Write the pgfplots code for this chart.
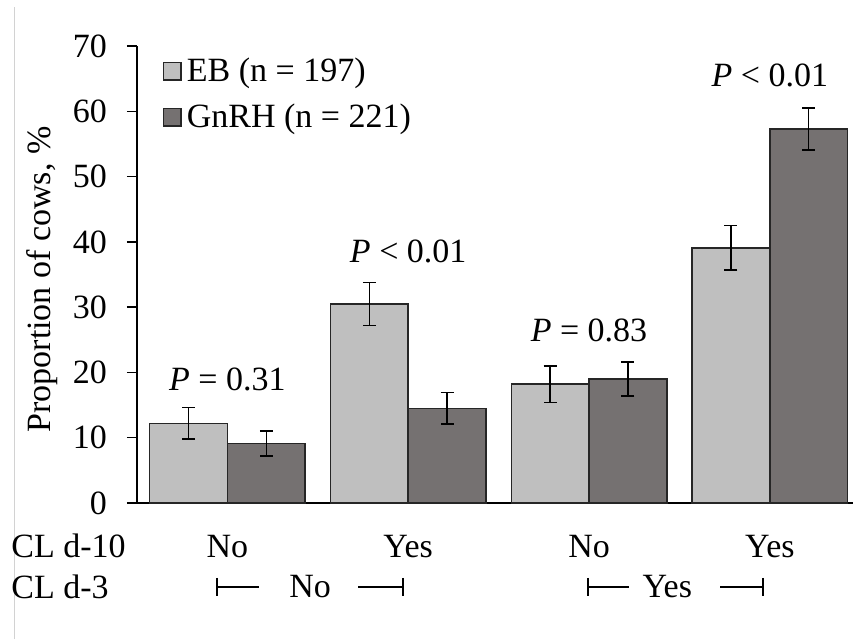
\documentclass[border=0pt]{standalone}
\usepackage{fontspec}
\setmainfont{Liberation Serif}
\usepackage{pgfplots}
\pgfplotsset{compat=1.18}
\definecolor{ebc}{HTML}{BFBFBF}
\definecolor{gnc}{HTML}{757171}
\definecolor{edge}{HTML}{262626}
\begin{document}
\begin{tikzpicture}[font=\fontsize{13.6}{15}\selectfont]
\useasboundingbox (-54.8pt,-54.4pt) rectangle (286.8pt,201.2pt);
\draw[gray!35, line width=0.4pt] (-48.8pt,-54.4pt) -- (-48.8pt,198.4pt);
\begin{axis}[
  at={(0,0)}, anchor=south west,
  scale only axis, width=286.4pt, height=182.8pt,
  xmin=-0.5, xmax=3.46, ymin=0, ymax=70,
  ytick={0,10,...,70},
  xtick=\empty,
  axis x line*=bottom, axis y line*=left,
  axis line style={black, line width=0.6pt},
  tick style={black, line width=0.6pt},
  tick align=outside, major tick length=4pt,
  yticklabel style={xshift=-4.5pt},
  ylabel={Proportion of cows, \%},
  ylabel style={at={(axis description cs:-0.1327,0.489)}, anchor=center},
  /pgf/number format/assume math mode=true,
  ybar=0pt, bar width=0.43,
  clip=false,
  legend style={draw=none, fill=none, at={(axis description cs:0.025,0.998)}, anchor=north west,
    row sep=3.6pt, /tikz/every even column/.style={column sep=0pt}},
  legend cell align=left,
  legend image code/.code={\draw[#1] (0pt,-3.5pt) rectangle (7pt,3.5pt);},
]
\addplot[fill=ebc, draw=edge, line width=0.6pt,
  error bars/.cd, y dir=both, y explicit,
  error bar style={black, line width=0.6pt},
  error mark options={rotate=90, mark size=2.6pt, line width=0.6pt, black}] coordinates {
  (0,12.2) +- (0,2.4)
  (1,30.5) +- (0,3.3)
  (2,18.2) +- (0,2.8)
  (3,39.1) +- (0,3.4)
};
\addlegendentry{EB (n = 197)}
\addplot[fill=gnc, draw=edge, line width=0.6pt,
  error bars/.cd, y dir=both, y explicit,
  error bar style={black, line width=0.6pt},
  error mark options={rotate=90, mark size=2.6pt, line width=0.6pt, black}] coordinates {
  (0,9.1) +- (0,1.9)
  (1,14.5) +- (0,2.4)
  (2,19.0) +- (0,2.6)
  (3,57.3) +- (0,3.2)
};
\addlegendentry{GnRH (n = 221)}
\node at (axis cs:0,19.0) {\textit{P} = 0.31};
\node at (axis cs:1,38.6) {\textit{P} < 0.01};
\node at (axis cs:2,26.5) {\textit{P} = 0.83};
\node at (axis cs:3,65.5) {\textit{P} < 0.01};
\node[anchor=west, inner xsep=0pt] at (axis cs:-1.197,-6.6) {CL d-10};
\node[anchor=west, inner xsep=0pt] at (axis cs:-1.197,-12.86) {CL d-3};
\node at (axis cs:0,-6.6) {No};
\node at (axis cs:1,-6.6) {Yes};
\node at (axis cs:2,-6.6) {No};
\node at (axis cs:3,-6.6) {Yes};
\node at (axis cs:0.457,-12.86) {No};
\node at (axis cs:2.433,-12.86) {Yes};
\draw[black, line width=0.7pt] (axis cs:-0.057,-11.48) -- (axis cs:-0.057,-14.24);
\draw[black, line width=0.7pt] (axis cs:-0.057,-12.86) -- (axis cs:0.175,-12.86);
\draw[black, line width=0.7pt] (axis cs:0.723,-12.86) -- (axis cs:0.972,-12.86);
\draw[black, line width=0.7pt] (axis cs:0.972,-11.48) -- (axis cs:0.972,-14.24);
\draw[black, line width=0.7pt] (axis cs:1.996,-11.48) -- (axis cs:1.996,-14.24);
\draw[black, line width=0.7pt] (axis cs:1.996,-12.86) -- (axis cs:2.223,-12.86);
\draw[black, line width=0.7pt] (axis cs:2.726,-12.86) -- (axis cs:2.964,-12.86);
\draw[black, line width=0.7pt] (axis cs:2.964,-11.48) -- (axis cs:2.964,-14.24);
\end{axis}
\end{tikzpicture}
\end{document}
